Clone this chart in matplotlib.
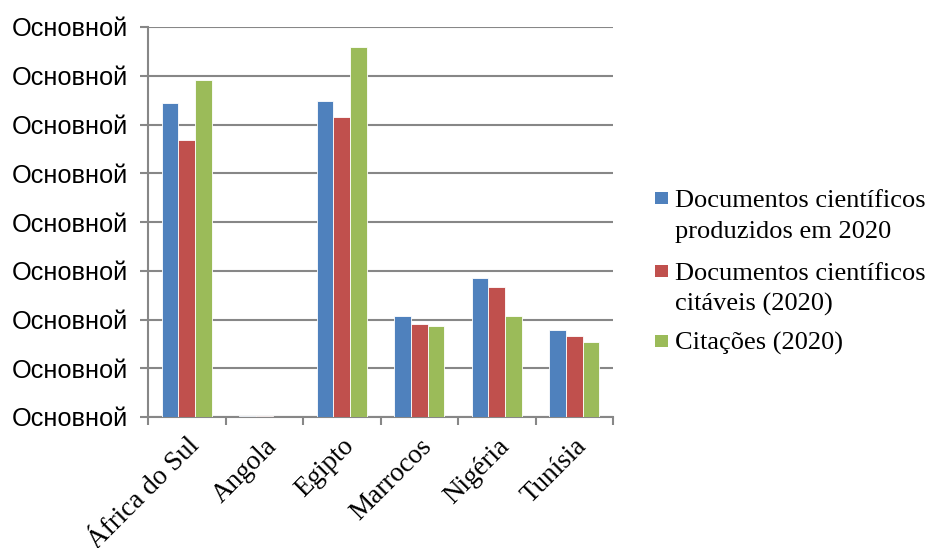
import numpy as np
import matplotlib.pyplot as plt
from matplotlib.patches import Rectangle
from matplotlib.ticker import FixedLocator, FixedFormatter

countries = ['África do Sul', 'Angola', 'Egipto', 'Marrocos', 'Nigéria', 'Tunísia']
series_names = ['Documentos científicos\nproduzidos em 2020',
                'Documentos científicos\ncitáveis (2020)',
                'Citações (2020)']
produzidos = [6.44, 0.02, 6.48, 2.07, 2.85, 1.78]
citaveis = [5.68, 0.012, 6.15, 1.91, 2.67, 1.66]
citacoes = [6.91, 0.006, 7.59, 1.87, 2.07, 1.54]
y_ticks = [0, 1, 2, 3, 4, 5, 6, 7, 8]
y_tick_labels = ['Основной'] * 9

colors = ['#4F81BD', '#C0504D', '#9BBB59']
grid_col = '#878787'
W, H = 928, 548

fig = plt.figure(figsize=(W / 100, H / 100), dpi=100)
ax = fig.add_axes([148 / W, 1 - 417 / H, (613 - 148) / W, (417 - 27) / H])

x = np.arange(len(countries))
w = 0.215
for i, vals in enumerate([produzidos, citaveis, citacoes]):
    ax.bar(x + (i - 1) * w, vals, width=w, color=colors[i], edgecolor='white',
           linewidth=0.6, zorder=3)

ax.set_xlim(-0.5, len(countries) - 0.5)
ax.set_ylim(0, 8)
ax.yaxis.set_major_locator(FixedLocator(y_ticks))
ax.yaxis.set_major_formatter(FixedFormatter(y_tick_labels))
ax.grid(axis='y', color=grid_col, linewidth=1.5, zorder=0)

# ticks at category boundaries, labels at centres
ax.set_xticks(np.arange(-0.5, len(countries)))
ax.set_xticklabels([])
ax.set_xticks(x, minor=True)
ax.set_xticklabels(countries, minor=True, rotation=45, ha='right', va='top',
                   rotation_mode='anchor', fontsize=19.5, family='Liberation Serif')
ax.tick_params(axis='x', which='minor', length=0, pad=12)
ax.tick_params(axis='x', which='major', length=6, color=grid_col, width=1.5)
ax.tick_params(axis='y', length=6, color=grid_col, width=1.5, pad=8.5, labelsize=18.3)
for lbl in ax.get_yticklabels():
    lbl.set_family('Liberation Sans')

for s in ['top', 'right']:
    ax.spines[s].set_visible(False)
for s in ['left', 'bottom']:
    ax.spines[s].set_color(grid_col)
    ax.spines[s].set_linewidth(1.5)

# legend, handle lined up with the first text line
baselines = [207, 280, 350]
for i, name in enumerate(series_names):
    yb = baselines[i]
    fig.patches.append(Rectangle((655 / W, 1 - (yb - 3) / H), 13 / W, 12 / H,
                                 transform=fig.transFigure, facecolor=colors[i],
                                 edgecolor='none'))
    fig.text(675 / W, 1 - yb / H, name.split('\n')[0], fontsize=19,
             family='Liberation Serif', va='baseline', ha='left')
    if '\n' in name:
        fig.text(675 / W, 1 - (yb + 31) / H, name.split('\n')[1], fontsize=19,
                 family='Liberation Serif', va='baseline', ha='left')

fig.savefig('out.png', dpi=100)
